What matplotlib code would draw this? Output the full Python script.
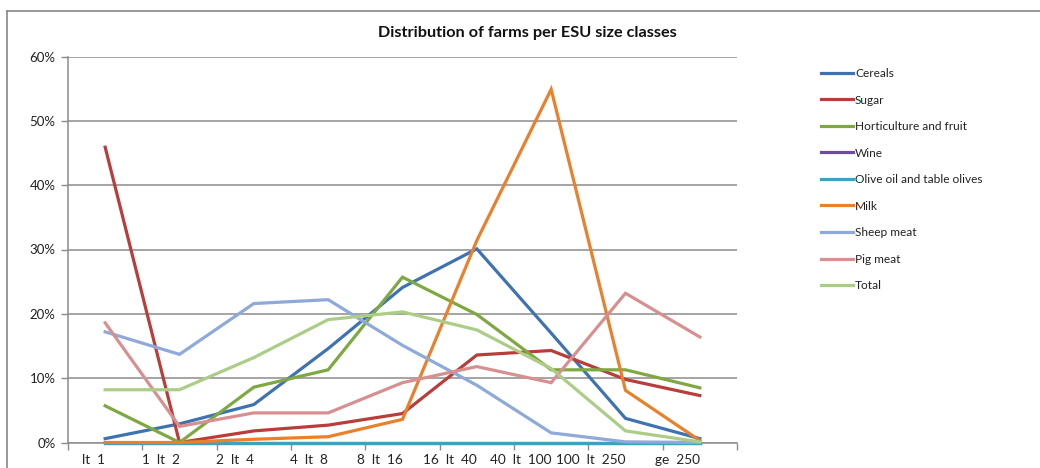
import matplotlib
matplotlib.use("Agg")
import matplotlib.pyplot as plt
import matplotlib.transforms as mtransforms
from matplotlib.ticker import FixedLocator, PercentFormatter
from matplotlib.lines import Line2D

plt.rcParams['font.family'] = ['Lato', 'DejaVu Sans']

# ESU size classes
size_classes = ["lt  1", "1  lt  2", "2  lt  4", "4  lt  8", "8  lt  16",
                "16  lt  40", "40  lt  100", "100  lt  250", "ge  250"]

# share of farms (%) per size class
cereals = [0.6, 2.9, 5.9, 14.6, 24.1, 30.1, 17.0, 3.75, 0.6]
sugar = [45.9, 0.0, 1.8, 2.7, 4.5, 13.6, 14.3, 9.8, 7.3]
horticulture = [5.7, 0.0, 8.6, 11.3, 25.7, 19.9, 11.3, 11.3, 8.5]
wine = [0, 0, 0, 0, 0, 0, 0, 0, 0]
olive_oil = [0, 0, 0, 0, 0, 0, 0, 0, 0]
milk = [0.0, 0.0, 0.5, 0.9, 3.6, 31.4, 54.9, 8.1, 0.3]
sheep_meat = [17.2, 13.7, 21.6, 22.2, 15.1, 8.9, 1.5, 0.1, 0.0]
pig_meat = [18.6, 2.5, 4.6, 4.6, 9.3, 11.8, 9.3, 23.2, 16.4]
total = [8.2, 8.2, 13.2, 19.1, 20.3, 17.5, 11.5, 1.8, 0.1]

series_names = ["Cereals", "Sugar", "Horticulture and fruit", "Wine",
                "Olive oil and table olives", "Milk", "Sheep meat",
                "Pig meat", "Total"]
series_values = [cereals, sugar, horticulture, wine, olive_oil, milk,
                 sheep_meat, pig_meat, total]
series_colors = ["#3F72B0", "#B83D3B", "#7EA841", "#6C4E9C", "#3CA2BF",
                 "#E8802C", "#8EAADA", "#D7908F", "#ABCD86"]

W, H = 1040, 468
fig = plt.figure(figsize=(W / 100, H / 100), dpi=100)

# plot area in pixels
x0, x1 = 68, 737
y_top, y_bot = 56.5, 442.5
ax = fig.add_axes([x0 / W, (H - y_bot) / H, (x1 - x0) / W, (y_bot - y_top) / H])

n = len(size_classes)
xpos = [i + 0.5 for i in range(n)]

grid_col = "#8C8C8C"
text_col = "#222222"
for i in range(0, 61, 10):
    ax.axhline(i, color=grid_col, lw=1.1, zorder=1)

lines = []
for name, vals, col in zip(series_names, series_values, series_colors):
    ln, = ax.plot(xpos, vals, color=col, lw=2.3, label=name,
                  solid_joinstyle='miter', clip_on=False, zorder=3)
    lines.append(ln)

ax.set_xlim(0, n)
ax.set_ylim(0, 60)

ax.yaxis.set_major_locator(FixedLocator(range(0, 61, 10)))
ax.yaxis.set_major_formatter(PercentFormatter(decimals=0))
ax.tick_params(axis='y', length=5, width=1, color=grid_col, pad=4,
               labelsize=9.5, labelcolor=text_col)

ax.xaxis.set_major_locator(FixedLocator(range(0, n + 1)))
ax.xaxis.set_minor_locator(FixedLocator(xpos))
ax.set_xticklabels([], minor=False)
ax.set_xticklabels(size_classes, minor=True, ha='right')
ax.tick_params(axis='x', which='major', length=5, width=1, color=grid_col)
ax.tick_params(axis='x', which='minor', length=0, pad=8, labelsize=9.8,
               labelcolor=text_col)
shift = mtransforms.ScaledTranslation(0, 0, fig.dpi_scale_trans)
for lbl in ax.xaxis.get_minorticklabels():
    lbl.set_transform(lbl.get_transform() + shift)

for side in ("top", "right"):
    ax.spines[side].set_visible(False)
for side in ("left", "bottom"):
    ax.spines[side].set_color(grid_col)
    ax.spines[side].set_linewidth(1.1)
ax.spines['bottom'].set_zorder(0.5)

leg = ax.legend(handles=lines, loc='upper left',
                bbox_to_anchor=(821 / W, 1 - 68 / H),
                bbox_transform=fig.transFigure, frameon=False, fontsize=8.6,
                handlelength=2.7, handletextpad=0.15, labelspacing=1.3,
                borderpad=0, borderaxespad=0)
for t in leg.get_texts():
    t.set_color(text_col)

fig.text(527 / W, 1 - 33 / H, "Distribution of farms per ESU size classes",
         ha='center', va='center', fontsize=11.7, fontweight='bold',
         color="#111111")

# chart area border (left and top edges)
border = "#888888"
fig.add_artist(Line2D([7 / W, 7 / W], [0, 1 - 11 / H], color=border, lw=1.2,
                      transform=fig.transFigure))
fig.add_artist(Line2D([7 / W, 1], [1 - 11 / H, 1 - 11 / H], color=border,
                      lw=1.2, transform=fig.transFigure))

fig.savefig("out.png", dpi=100)
